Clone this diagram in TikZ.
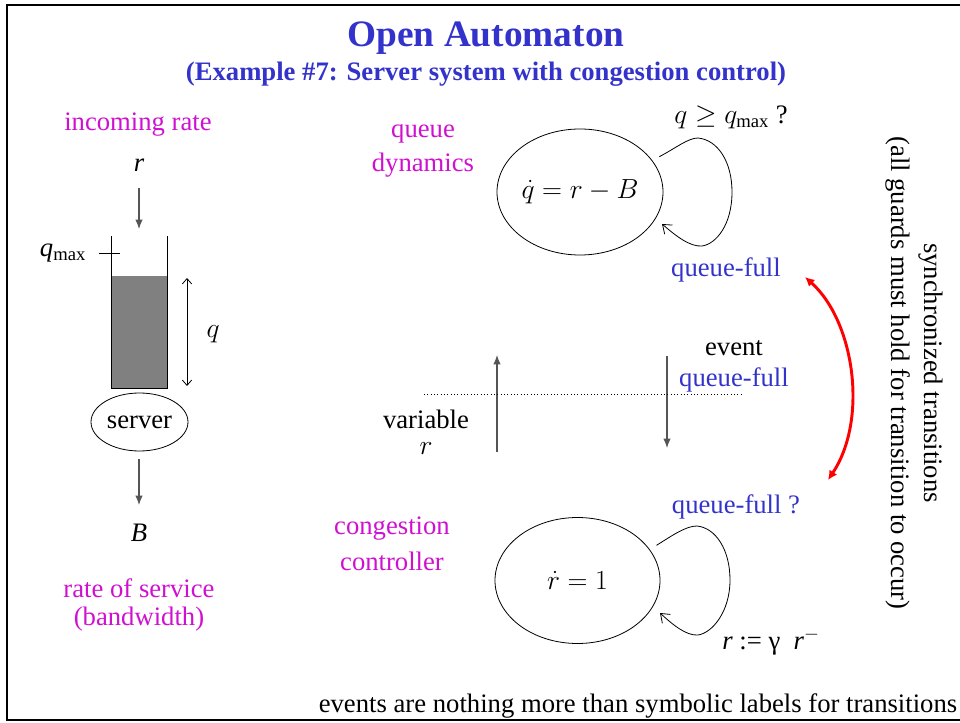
\documentclass[tikz,border=0pt]{standalone}
\usepackage{amsmath}
\usepackage{fontspec}
\setmainfont{Liberation Serif}
\usetikzlibrary{arrows.meta,shapes.geometric}
\definecolor{ttlblue}{RGB}{51,51,204}
\definecolor{lblmag}{RGB}{208,16,208}
\definecolor{arrgray}{RGB}{85,85,85}
\tikzset{
  txt/.style={inner sep=0pt, font=\fontsize{20}{22}\selectfont},
  mag/.style={txt, text=lblmag},
  blu/.style={txt, text=ttlblue},
  state/.style={draw, ellipse, line width=0.6pt, inner sep=0pt, font=\fontsize{20}{22}\selectfont},
  flow/.style={draw=arrgray, line width=0.8pt, -{Latex[length=7pt,width=5.5pt]}},
  loopedge/.style={line width=0.6pt, -{Straight Barb[length=6pt,width=9pt]}},
  frame/.style={line width=1.6pt}
}
\begin{document}
\begin{tikzpicture}[x=0.75pt, y=-0.75pt]
\useasboundingbox (0,0) rectangle (960,723);
% frame
\draw[frame] (960,5) -- (7,5) -- (7,720) -- (960,720);
% title
\node[txt, text=ttlblue, font=\fontsize{28}{30}\bfseries\selectfont] (title) at (486,38) {Open Automaton};
\node[blu, font=\fontsize{20}{22}\bfseries\selectfont] (subtitle) at (486,74) {(Example \#7: Server system with congestion control)};
% left: queue
\node[mag] (inc) at (138,125) {incoming rate};
\node[txt] (rin) at (139,165) {\textit{r}};
\coordinate (qin) at (139,229);
\draw[flow] (139,188) -- (qin);
\fill[gray] (111,276) rectangle (167,388);
\draw[line width=0.6pt] (111,236) -- (111,388) -- (167,388) -- (167,236);
\draw[line width=0.6pt] (99,253) -- (120,253);
\node[txt] (qmaxl) at (63,253) {\textit{q}$_{\text{max}}$};
\coordinate (qlo) at (187,386);
\coordinate (qhi) at (187,278);
\draw[line width=0.6pt, {Straight Barb[length=4pt,width=7pt]}-{Straight Barb[length=4pt,width=7pt]}] (qhi) -- (qlo);
\node[txt] (qlab) at (213,334) {$q$};
\node[state, minimum width=72.75pt, minimum height=43.5pt] (server) at (139.5,422) {\raisebox{-2pt}{server}};
\coordinate (bout) at (139,505);
\draw[flow] (139,459) -- (bout);
\node[txt] (Blab) at (139,533) {\textit{B}};
\node[mag] (rs1) at (139,588) {rate of service};
\node[mag] (rs2) at (139,619) {(bandwidth)};
% queue dynamics automaton
\node[mag] (qd1) at (423,134) {queue};
\node[mag] (qd2) at (423,165) {dynamics};
\node[state, minimum width=124.5pt, minimum height=94.5pt] (qdyn) at (580,192) {$\dot q = r - B$\hspace{9pt}};
\draw[loopedge] (qdyn.27) ++(10,0) .. controls (676,148) and (688,138) .. (698,138)
   .. controls (718,140) and (732,162) .. (732,192)
   .. controls (732,225) and (716,244) .. (702,246)
   .. controls (690,247) and (676,236) .. (662,224);
\node[txt] (guard1) at (731,117) {$q \geq q_{\text{max}}$ ?};
\node[blu] (qf1) at (726,270) {queue-full};
% middle interface
\coordinate (vlo) at (497,452);
\coordinate (vhi) at (497,355);
\draw[flow] (vlo) -- (vhi);
\coordinate (elo) at (667,448);
\coordinate (ehi) at (667,356);
\draw[flow] (ehi) -- (elo);
\draw[dotted, line width=0.5pt] (424,394) -- (743,394);
\node[txt] (var1) at (426,419) {variable};
\node[txt] (var2) at (426,449) {$r$};
\node[txt] (ev1) at (734,348) {event};
\node[blu] (ev2) at (734,380) {queue-full};
% congestion controller automaton
\node[mag] (cc1) at (392,529) {congestion};
\node[mag] (cc2) at (392,561) {controller};
\node[state, minimum width=123.75pt, minimum height=94.5pt] (rdyn) at (577.5,580.5) {$\dot r = 1$};
\draw[loopedge] (rdyn.27) ++(10,0) .. controls (673,535) and (686,526) .. (697,526)
   .. controls (716,528) and (730,550) .. (730,580)
   .. controls (730,612) and (712,633) .. (698,635)
   .. controls (686,636) and (672,624) .. (660,613);
\node[blu] (qf2) at (736,507) {queue-full ?};
\node[txt] (reset) at (771,642) {\textit{r} := γ\ \ \textit{r}$^{-}$};
% synchronization
\coordinate (s1) at (805,277);
\coordinate (s2) at (828,480);
\draw[red, line width=2.2pt, {Latex[length=7pt,width=7pt]}-{Latex[length=7pt,width=7pt]}] (s1) .. controls (855,322) and (868,420) .. (s2);
\node[txt, rotate=-90] (sync1) at (931,373) {synchronized transitions};
\node[txt, rotate=-90] (sync2) at (898,373) {(all guards must hold for transition to occur)};
% footer
\node[txt] (foot) at (638,706) {events are nothing more than symbolic labels for transitions};
\end{tikzpicture}
\end{document}
